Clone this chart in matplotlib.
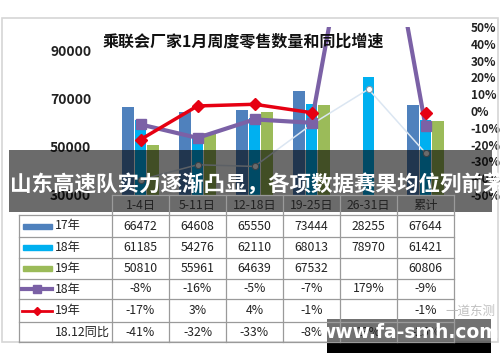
import numpy as np
import matplotlib
matplotlib.use("Agg")
import matplotlib.pyplot as plt
from matplotlib.patches import Rectangle

plt.rcParams['font.family'] = ['Noto Sans CJK SC', 'DejaVu Sans']

# ---------------- data ----------------
categories = ['1-4日', '5-11日', '12-18日', '19-25日', '26-31日', '累计']
sales17 = [66472, 64608, 65550, 73444, 28255, 67644]
sales18 = [61185, 54276, 62110, 68013, 78970, 61421]
sales19 = [50810, 55961, 64639, 67532, np.nan, 60806]
growth18 = [-8, -16, -5, -7, 179, -9]
growth19 = [-17, 3, 4, -1, np.nan, -1]
growth1812 = [-41, -32, -33, -8, 13, -25]
left_ticks = [30000, 50000, 70000, 90000]
right_ticks = [-50, -40, -30, -20, -10, 0, 10, 20, 30, 40, 50]
title = '乘联会厂家1月周度零售数量和同比增速'
banner = '山东高速队实力逐渐凸显，各项数据赛果均位列前茅'

c17, c18, c19 = '#4F81BD', '#00B0F0', '#9BBB59'
cp, cr, cw = '#7B61A6', '#E60012', '#dbe6f2'

W, H = 500, 362
fig = plt.figure(figsize=(W / 100, H / 100), dpi=100)

def fx(px):
    return px / W

def fy(py):
    return 1 - py / H

# main axes: x 112..454 px, y 27..195 px
ax = fig.add_axes([fx(112), fy(195), fx(454) - fx(112), fy(27) - fy(195)])
x = np.arange(len(categories))
bw, off = 0.205, 0.22
ax.bar(x - off, sales17, bw, color=c17, zorder=2)
ax.bar(x, sales18, bw, color=c18, zorder=2)
ax.bar(x + off, sales19, bw, color=c19, zorder=2)
ax.set_xlim(-0.5, len(categories) - 0.5)
ax.set_ylim(30000, 100000)
ax.set_yticks(left_ticks)
ax.set_yticklabels([str(v) for v in left_ticks], fontsize=10, fontweight='bold', color='#222222')
ax.set_xticks([])
ax.tick_params(axis='y', length=0, pad=15)
for s in ax.spines.values():
    s.set_visible(False)
ax.patch.set_alpha(0)

ax2 = ax.twinx()
ax2.set_ylim(-50, 50)
ax2.set_yticks(right_ticks)
ax2.set_yticklabels([f'{v}%' for v in right_ticks], fontsize=8.6, fontweight='bold', color='#222222')
ax2.tick_params(axis='y', length=0, pad=12)
for s in ax2.spines.values():
    s.set_visible(False)
ax2.plot(x, growth1812, color=cw, lw=1.1, marker='o', ms=4.5, mfc='white', mec='#8a9aa8', mew=0.8, zorder=3)
ax2.plot(x, growth18, color=cp, lw=3, marker='s', ms=6.5, mfc=cp, mec=cp, zorder=4)
ax2.plot(x, growth19, color=cr, lw=2.5, marker='D', ms=6, mfc=cr, mec=cr, zorder=5)

# overlay in pixel coordinates
ov = fig.add_axes([0, 0, 1, 1], zorder=10)
ov.set_xlim(0, W)
ov.set_ylim(H, 0)
ov.axis('off')
ov.patch.set_alpha(0)

# outer box
ov.add_patch(Rectangle((2, 18), 496, 324, fill=False, ec='#d6d6d6', lw=1.2))
ov.text(243, 42, title, ha='center', va='center', fontsize=11.5, fontweight='bold', color='#111111')

# table
col_edges = [112 + 57 * i for i in range(7)]
row_edges = [215, 237, 258, 279, 299, 322, 342]
lc = '#9a9a9a'
ov.plot([112, 454], [195, 195], color=lc, lw=0.9)
for yy in row_edges:
    ov.plot([19, 454], [yy, yy], color=lc, lw=0.9)
for xx in col_edges:
    ov.plot([xx, xx], [195, 342], color=lc, lw=0.9)
ov.plot([19, 19], [215, 342], color=lc, lw=0.9)
for i, c in enumerate(categories):
    ov.text((col_edges[i] + col_edges[i + 1]) / 2, 205, c, ha='center', va='center', fontsize=8.8, color='#222222')

def fmt_int(v):
    return '' if np.isnan(v) else f'{int(v)}'

def fmt_pct(v):
    return '' if np.isnan(v) else f'{int(v)}%'

rows = [
    ('17年', [fmt_int(v) for v in sales17]),
    ('18年', [fmt_int(v) for v in sales18]),
    ('19年', [fmt_int(v) for v in sales19]),
    ('18年', [fmt_pct(v) for v in growth18]),
    ('19年', [fmt_pct(v) for v in growth19]),
    ('18.12同比', [fmt_pct(v) for v in growth1812]),
]
for r, (lab, vals) in enumerate(rows):
    yc = (row_edges[r] + row_edges[r + 1]) / 2
    ov.text(55, yc, lab, ha='left', va='center', fontsize=8.8, color='#222222')
    for i, v in enumerate(vals):
        ov.text((col_edges[i] + col_edges[i + 1]) / 2, yc, v, ha='center', va='center', fontsize=8.8, color='#222222')

# legend swatches in table
for r, col in enumerate([c17, c18, c19]):
    yc = (row_edges[r] + row_edges[r + 1]) / 2
    ov.add_patch(Rectangle((23, yc - 2.5), 29, 5, color=col))
yc = (row_edges[3] + row_edges[4]) / 2
ov.plot([22, 52], [yc, yc], color=cp, lw=3)
ov.plot([37], [yc], marker='s', ms=6, color=cp)
yc = (row_edges[4] + row_edges[5]) / 2
ov.plot([22, 52], [yc, yc], color=cr, lw=2)
ov.plot([37], [yc], marker='D', ms=4, color=cr)

# banner
ov.add_patch(Rectangle((9, 150), 483, 62, color='black', alpha=0.58, lw=0))
bt = ov.text(10, 184, banner, ha='left', va='center', fontsize=15.5, fontweight='bold', color='white')
clip = Rectangle((9, 150), 483, 62, transform=ov.transData)
bt.set_clip_path(clip)

# watermark
ov.text(470, 311, '一道东测', ha='center', va='center', fontsize=9, color='#b0b0b0', alpha=0.8)
ov.add_patch(Rectangle((327, 319), 164, 24, color='#3a3a3a', alpha=0.72, lw=0))
ov.add_patch(Rectangle((327, 343), 164, 10, color='black', lw=0))
ov.text(409, 332, 'www.fa-smh.com', ha='center', va='center', fontsize=13.5, fontweight='bold',
        color='white', family='DejaVu Sans')

fig.savefig('out.png', dpi=100)
